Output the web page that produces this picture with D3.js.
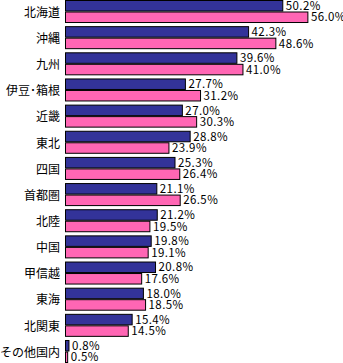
<!DOCTYPE html>
<html><head><meta charset="utf-8">
<script src="https://cdn.jsdelivr.net/npm/d3@7/dist/d3.min.js"></script>
<style>html,body{margin:0;padding:0;background:#fff;}svg{display:block;}</style>
</head><body>
<svg id="chart" width="343" height="363"></svg>
<script>
const categories = ["北海道","沖縄","九州","伊豆･箱根","近畿","東北","四国","首都圏","北陸","中国","甲信越","東海","北関東","その他国内"];
const series1 = [50.2,42.3,39.6,27.7,27.0,28.8,25.3,21.1,21.2,19.8,20.8,18.0,15.4,0.8];
const series2 = [56.0,48.6,41.0,31.2,30.3,23.9,26.4,26.5,19.5,19.1,17.6,18.5,14.5,0.5];
const seriesNames = ["s1","s2"];
const colors = ["#333399","#FF66B4"];

const svg = d3.select("#chart");
const x = d3.scaleLinear().domain([0, 64]).range([65, 342]);
const y = d3.scaleBand().domain(categories).range([0, 363]).paddingInner(0.12).paddingOuter(0);
const ys = d3.scaleBand().domain(seriesNames).range([0, y.bandwidth()]);

const data = categories.map((c,i)=>({cat:c, vals:[series1[i], series2[i]]}));

const g = svg.selectAll("g.cat").data(data).join("g")
  .attr("class","cat")
  .attr("transform", d=>`translate(0,${y(d.cat)})`);

g.selectAll("rect").data(d=>d.vals.map((v,j)=>({v, s:seriesNames[j], j}))).join("rect")
  .attr("x", x(0)+0.5)
  .attr("y", d=>ys(d.s)+0.5)
  .attr("width", d=>Math.max(0, x(d.v)-x(0)))
  .attr("height", ys.bandwidth()-1)
  .attr("fill", d=>colors[d.j])
  .attr("stroke", "#000")
  .attr("stroke-width", 1);

g.selectAll("text.val").data(d=>d.vals.map((v,j)=>({v, s:seriesNames[j], j}))).join("text")
  .attr("class","val")
  .attr("x", d=>x(d.v)+3.5)
  .attr("y", d=>ys(d.s)+ys.bandwidth()/2)
  .attr("dy","0.36em")
  .attr("font-family","'Noto Sans CJK JP', sans-serif")
  .attr("font-size","11.5px")
  .attr("letter-spacing","0.4px")
  .attr("fill","#000")
  .text(d=>d.v.toFixed(1)+"%");

g.append("text")
  .attr("x", 60)
  .attr("y", y.bandwidth()/2+1)
  .attr("dy","0.36em")
  .attr("text-anchor","end")
  .attr("font-family","'Noto Sans CJK JP', sans-serif")
  .attr("font-size","12px")
  .attr("fill","#000")
  .text(d=>d.cat);
</script>
</body></html>
